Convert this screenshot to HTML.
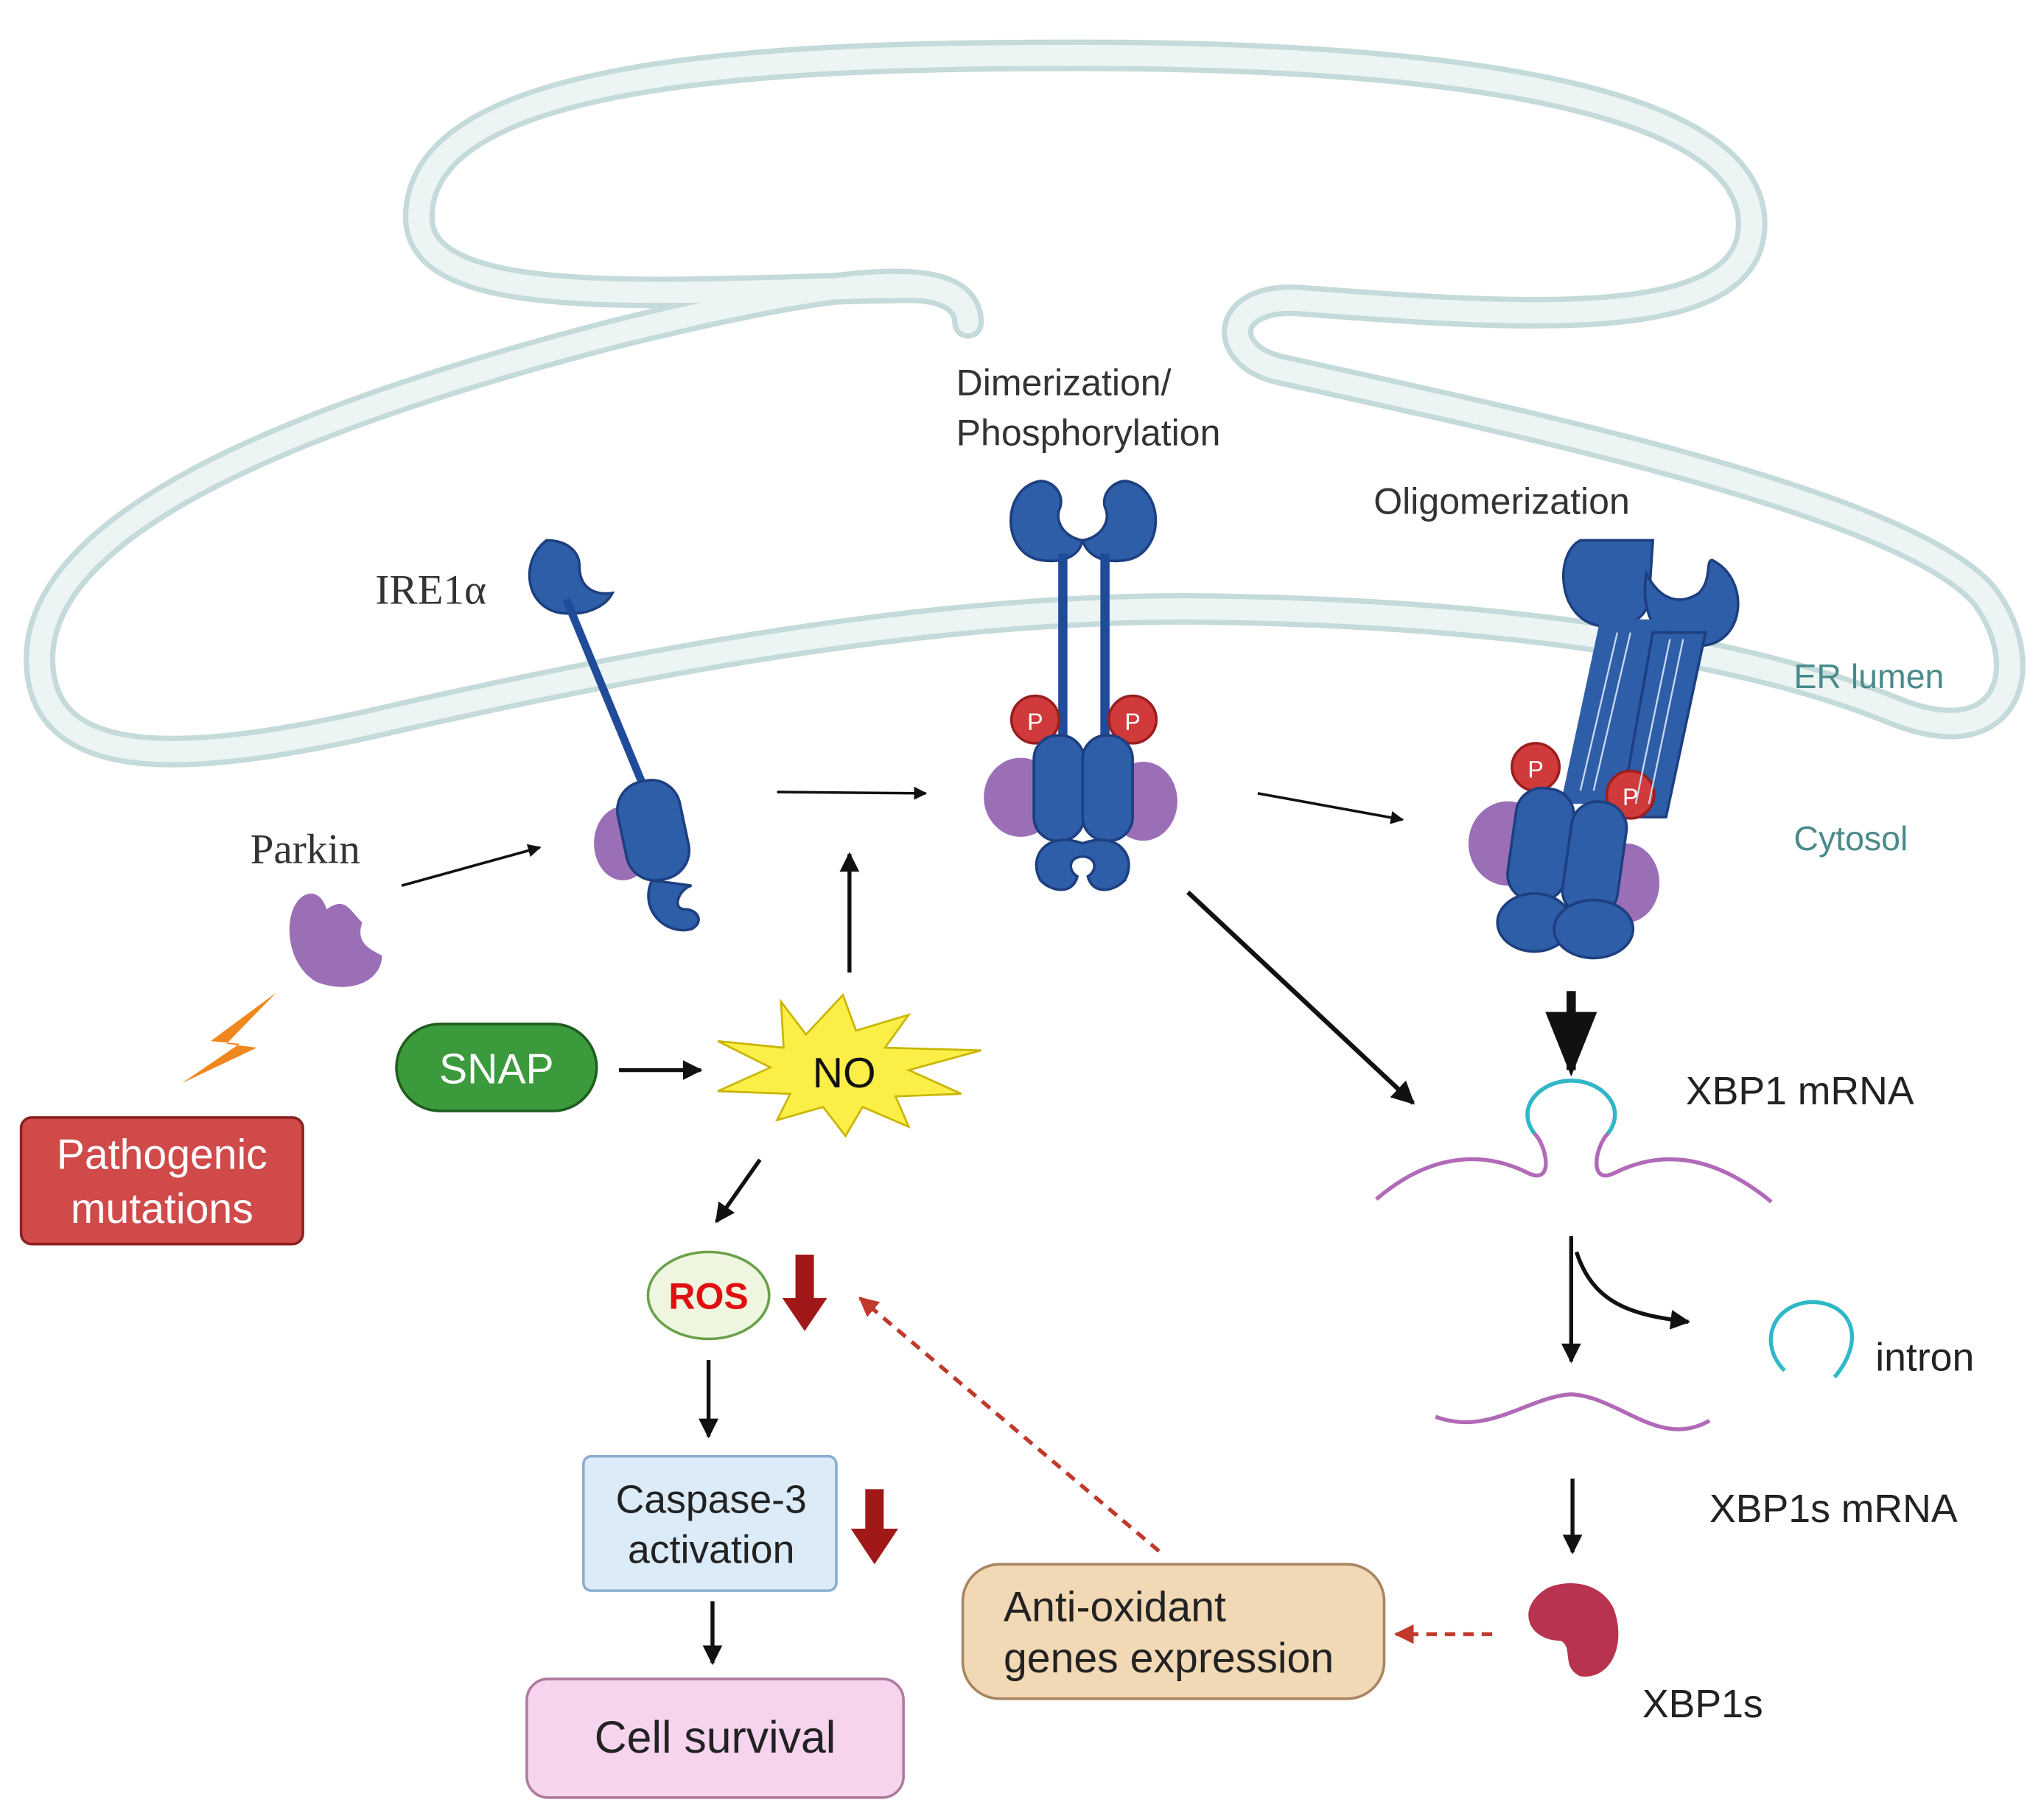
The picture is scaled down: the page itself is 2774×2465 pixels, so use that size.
<!DOCTYPE html>
<html><head><meta charset="utf-8"><style>
html,body{margin:0;padding:0;background:#fff;}
svg{display:block;}
text{font-family:"Liberation Sans",sans-serif;}
.serif{font-family:"Liberation Serif",serif;}
</style></head><body>
<svg width="2774" height="2465" viewBox="0 0 1552 1378" preserveAspectRatio="none" xmlns="http://www.w3.org/2000/svg">
<defs>
<marker id="ah" viewBox="0 0 10 10" refX="9" refY="5" markerWidth="5" markerHeight="5" orient="auto"><path d="M0,0 L10,5 L0,10 z" fill="#111"/></marker>
<marker id="ahs" viewBox="0 0 10 10" refX="9" refY="5" markerWidth="7" markerHeight="7" orient="auto"><path d="M0,1 L10,5 L0,9 z" fill="#111"/></marker>
<marker id="ahr" viewBox="0 0 10 10" refX="9" refY="5" markerWidth="5" markerHeight="5" orient="auto"><path d="M0,0 L10,5 L0,10 z" fill="#c0392b"/></marker>
</defs>
<rect width="1552" height="1378" fill="#fff"/>
<!-- ER membrane -->
<g fill="none" stroke-linejoin="round">
<path d="M735,245 C735,200 640,210 460,255 C250,310 30,390 30,500 C30,590 150,580 300,545 C520,495 720,462 900,462 C1150,464 1330,495 1440,540 C1530,575 1545,500 1505,450 C1440,380 1150,320 970,280 C925,268 930,225 985,228 C1150,240 1330,255 1330,170 C1330,55 1000,42 820,42 C600,42 318,50 318,165 C318,240 520,220 690,218 C722,218 735,230 735,245 Z" stroke="#c5dada" stroke-width="24"/>
<path d="M735,245 C735,200 640,210 460,255 C250,310 30,390 30,500 C30,590 150,580 300,545 C520,495 720,462 900,462 C1150,464 1330,495 1440,540 C1530,575 1545,500 1505,450 C1440,380 1150,320 970,280 C925,268 930,225 985,228 C1150,240 1330,255 1330,170 C1330,55 1000,42 820,42 C600,42 318,50 318,165 C318,240 520,220 690,218 C722,218 735,230 735,245 Z" stroke="#ecf4f4" stroke-width="16"/>
</g>
<!-- texts -->
<text x="726" y="300" font-size="28" fill="#333">Dimerization/</text>
<text x="726" y="338" font-size="28" fill="#333">Phosphorylation</text>
<text x="1043" y="390" font-size="28" fill="#333">Oligomerization</text>
<text x="285" y="458" font-size="32" fill="#333" class="serif">IRE1α</text>
<text x="190" y="655" font-size="32" fill="#333" class="serif">Parkin</text>
<text x="1362" y="522" font-size="26" fill="#4a8a8a">ER lumen</text>
<text x="1362" y="645" font-size="26" fill="#4a8a8a">Cytosol</text>
<text x="1280" y="838" font-size="30" fill="#222">XBP1 mRNA</text>
<text x="1424" y="1040" font-size="30" fill="#222">intron</text>
<text x="1298" y="1155" font-size="30" fill="#222">XBP1s mRNA</text>
<text x="1247" y="1303" font-size="30" fill="#222">XBP1s</text>

<!-- IRE1 monomer -->
<g fill="#2e5ea8" stroke="#1d3f80" stroke-width="2">
<path d="M415,410 C395,425 398,460 425,465 C445,468 460,460 465,450 C450,452 440,445 440,430 C440,418 430,410 415,410 Z"/>
<line x1="430" y1="455" x2="490" y2="600" stroke="#1f4b9a" stroke-width="6"/>
<ellipse cx="473" cy="640" rx="22" ry="28" fill="#9b6fb6" stroke="none"/>
<rect x="472" y="592" width="48" height="76" rx="22" transform="rotate(-12 496 630)"/>
<path d="M495,668 C485,690 505,710 525,705 C535,700 530,690 520,690 C510,690 515,675 525,672 Z"/>
</g>
<!-- Parkin -->
<path d="M230,680 C215,690 215,730 240,745 C265,755 290,745 290,725 C280,720 270,715 275,700 C265,690 262,680 248,690 C245,680 238,675 230,680 Z" fill="#9b6fb6"/>
<line x1="305" y1="672" x2="410" y2="643" stroke="#111" stroke-width="2" marker-end="url(#ah)"/>
<!-- lightning -->
<path d="M210,753 L160,790 L182,792 L138,822 L195,795 L172,792 Z" fill="#f0871e"/>
<rect x="16" y="848" width="214" height="96" rx="8" fill="#d04a4a" stroke="#8d2020" stroke-width="2"/>
<text x="123" y="887" font-size="32" fill="#fff" text-anchor="middle">Pathogenic</text>
<text x="123" y="928" font-size="32" fill="#fff" text-anchor="middle">mutations</text>

<!-- Dimer -->
<g fill="#2e5ea8" stroke="#1d3f80" stroke-width="2">
<path d="M790,365 C760,370 760,420 790,425 C810,428 820,420 822,410 C808,408 800,395 805,385 C808,375 800,365 790,365 Z"/>
<path d="M855,365 C885,370 885,420 855,425 C835,428 825,420 822,410 C836,408 844,395 839,385 C836,375 845,365 855,365 Z"/>
<line x1="807" y1="420" x2="807" y2="560" stroke="#1f4b9a" stroke-width="7"/>
<line x1="839" y1="420" x2="839" y2="560" stroke="#1f4b9a" stroke-width="7"/>
<ellipse cx="775" cy="605" rx="28" ry="30" fill="#9b6fb6" stroke="none"/>
<ellipse cx="868" cy="608" rx="26" ry="30" fill="#9b6fb6" stroke="none"/>
<circle cx="786" cy="546" r="18" fill="#d03a3a" stroke="#9a1f1f"/>
<circle cx="860" cy="546" r="18" fill="#d03a3a" stroke="#9a1f1f"/>
<rect x="785" y="558" width="38" height="80" rx="18"/>
<rect x="822" y="558" width="38" height="80" rx="18"/>
<path d="M822,640 C795,630 780,650 790,668 C800,678 815,678 818,665 C810,660 812,650 822,650 C832,650 834,660 826,665 C829,678 844,678 854,668 C864,650 849,630 822,640 Z"/>
</g>
<text x="786" y="554" font-size="18" fill="#fff" text-anchor="middle">P</text>
<text x="860" y="554" font-size="18" fill="#fff" text-anchor="middle">P</text>

<!-- Oligomer -->
<g fill="#2e5ea8" stroke="#1d3f80" stroke-width="2">
<path d="M1200,410 C1180,420 1182,470 1215,475 C1235,478 1250,470 1252,455 L1255,410 Z"/>
<path d="M1250,435 C1260,455 1275,460 1290,450 C1300,440 1295,425 1300,425 C1330,440 1325,490 1290,490 C1260,490 1245,470 1250,435 Z"/>
<path d="M1215,470 L1268,470 L1240,610 L1185,610 Z" stroke="none"/>
<path d="M1255,480 L1295,480 L1265,620 L1230,620 Z"/>
<ellipse cx="1145" cy="640" rx="30" ry="32" fill="#9b6fb6" stroke="none"/>
<ellipse cx="1235" cy="670" rx="25" ry="30" fill="#9b6fb6" stroke="none"/>
<circle cx="1166" cy="582" r="18" fill="#d03a3a" stroke="#9a1f1f"/>
<circle cx="1238" cy="603" r="18" fill="#d03a3a" stroke="#9a1f1f"/>
<rect x="1148" y="598" width="44" height="86" rx="20" transform="rotate(8 1170 640)"/>
<rect x="1190" y="608" width="42" height="88" rx="20" transform="rotate(8 1210 650)"/>
<ellipse cx="1165" cy="700" rx="28" ry="22"/>
<ellipse cx="1210" cy="705" rx="30" ry="22"/>
</g>
<g stroke="#c9d8f0" stroke-width="1.3"><line x1="1228" y1="480" x2="1200" y2="600"/><line x1="1238" y1="480" x2="1210" y2="600"/><line x1="1268" y1="485" x2="1242" y2="610"/><line x1="1278" y1="485" x2="1252" y2="610"/></g>
<text x="1166" y="590" font-size="18" fill="#fff" text-anchor="middle">P</text>
<text x="1238" y="611" font-size="18" fill="#fff" text-anchor="middle">P</text>

<!-- arrows top -->
<line x1="590" y1="601" x2="703" y2="602" stroke="#111" stroke-width="2" marker-end="url(#ah)"/>
<line x1="955" y1="602" x2="1065" y2="622" stroke="#111" stroke-width="2" marker-end="url(#ah)"/>
<line x1="902" y1="677" x2="1073" y2="837" stroke="#111" stroke-width="3.5" marker-end="url(#ah)"/>
<line x1="645" y1="738" x2="645" y2="648" stroke="#111" stroke-width="3" marker-end="url(#ah)"/>
<line x1="1193" y1="752" x2="1193" y2="812" stroke="#111" stroke-width="7" marker-end="url(#ahs)"/>

<!-- SNAP / NO -->
<rect x="301" y="777" width="152" height="66" rx="33" fill="#3b9a3b" stroke="#1f5e1f" stroke-width="2"/>
<text x="377" y="822" font-size="32" fill="#fff" text-anchor="middle">SNAP</text>
<line x1="470" y1="812" x2="532" y2="812" stroke="#111" stroke-width="3" marker-end="url(#ah)"/>
<path d="M593,760 L612,785 L640,755 L650,782 L690,770 L672,795 L745,797 L690,812 L730,830 L680,832 L690,855 L655,840 L642,862 L625,840 L590,850 L600,830 L545,828 L585,810 L545,790 L595,795 Z" fill="#fbee47" stroke="#c9b500" stroke-width="1.5"/>
<text x="641" y="825" font-size="32" fill="#111" text-anchor="middle">NO</text>
<line x1="577" y1="880" x2="544" y2="927" stroke="#111" stroke-width="3" marker-end="url(#ah)"/>

<!-- ROS -->
<ellipse cx="538" cy="983" rx="46" ry="33" fill="#eef6e0" stroke="#6aa14a" stroke-width="2"/>
<text x="538" y="993" font-size="28" font-weight="bold" fill="#e01010" text-anchor="middle">ROS</text>
<path d="M604,952 L618,952 L618,985 L628,985 L611,1010 L594,985 L604,985 Z" fill="#a01818"/>
<line x1="538" y1="1032" x2="538" y2="1090" stroke="#111" stroke-width="3" marker-end="url(#ah)"/>
<rect x="443" y="1105" width="192" height="102" rx="6" fill="#dcebf8" stroke="#8ab0d0" stroke-width="2"/>
<text x="540" y="1148" font-size="30" fill="#222" text-anchor="middle">Caspase-3</text>
<text x="540" y="1186" font-size="30" fill="#222" text-anchor="middle">activation</text>
<path d="M657,1130 L671,1130 L671,1160 L682,1160 L664,1187 L646,1160 L657,1160 Z" fill="#a01818"/>
<line x1="541" y1="1215" x2="541" y2="1262" stroke="#111" stroke-width="3" marker-end="url(#ah)"/>
<rect x="400" y="1274" width="286" height="90" rx="16" fill="#f6d4ee" stroke="#b07aa0" stroke-width="2"/>
<text x="543" y="1330" font-size="34" fill="#222" text-anchor="middle">Cell survival</text>

<!-- Anti-oxidant -->
<rect x="731" y="1187" width="320" height="102" rx="28" fill="#f2d9b5" stroke="#a88560" stroke-width="2"/>
<text x="762" y="1230" font-size="32" fill="#222">Anti-oxidant</text>
<text x="762" y="1269" font-size="32" fill="#222">genes expression</text>
<line x1="880" y1="1177" x2="653" y2="985" stroke="#c0392b" stroke-width="3" stroke-dasharray="8,6" marker-end="url(#ahr)"/>
<line x1="1133" y1="1240" x2="1060" y2="1240" stroke="#c0392b" stroke-width="3" stroke-dasharray="8,6" marker-end="url(#ahr)"/>

<!-- mRNA -->
<path d="M1045,910 C1080,880 1120,870 1160,890 C1180,900 1175,870 1165,860 C1150,840 1170,820 1193,820 C1216,820 1236,840 1221,860 C1211,870 1206,900 1226,890 C1266,870 1306,880 1345,912" fill="none" stroke="#b06ab8" stroke-width="3"/>
<path d="M1165,860 C1150,840 1170,820 1193,820 C1216,820 1236,840 1221,860" fill="none" stroke="#2fb8c8" stroke-width="3"/>
<path d="M1193,938 L1193,1033" stroke="#111" stroke-width="3" fill="none" marker-end="url(#ah)"/>
<path d="M1197,950 C1210,990 1240,998 1282,1003" stroke="#111" stroke-width="3" fill="none" marker-end="url(#ah)"/>
<path d="M1355,1040 C1335,1020 1345,990 1375,988 C1405,988 1418,1015 1393,1045" fill="none" stroke="#2fb8c8" stroke-width="3"/>
<path d="M1090,1075 C1130,1090 1160,1060 1193,1058 C1230,1060 1260,1100 1298,1078" fill="none" stroke="#b06ab8" stroke-width="3"/>
<line x1="1194" y1="1122" x2="1194" y2="1178" stroke="#111" stroke-width="3" marker-end="url(#ah)"/>
<!-- XBP1s protein -->
<path d="M1175,1205 C1150,1220 1160,1245 1185,1245 C1195,1250 1185,1265 1200,1272 C1225,1275 1235,1245 1225,1220 C1215,1200 1190,1198 1175,1205 Z" fill="#b8334f"/>
</svg>
</body></html>
